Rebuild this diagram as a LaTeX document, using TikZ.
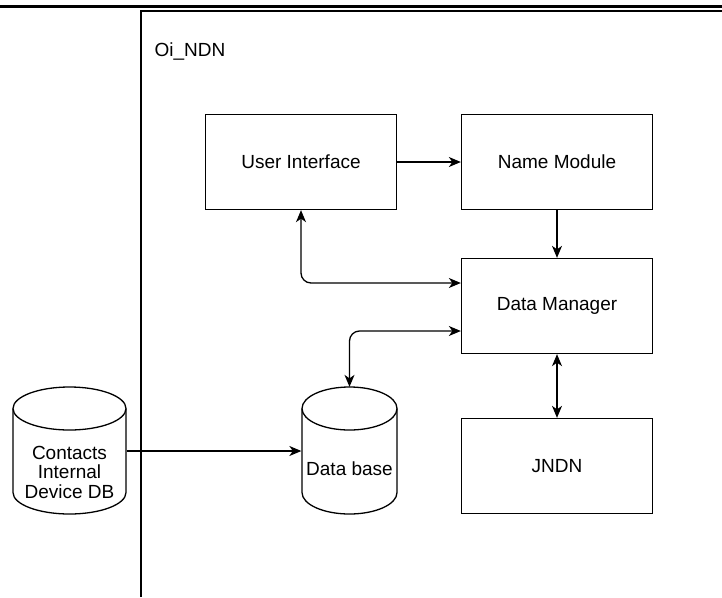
\documentclass[tikz,border=0pt]{standalone}
\usepackage{fontspec}
\setmainfont{Liberation Sans}
\usetikzlibrary{arrows.meta}
\begin{document}
\begin{tikzpicture}[x=1pt,y=-1pt, line width=1.3pt,
  txt/.style={font=\fontsize{19}{19.5}\selectfont},
  box/.style={draw, txt, minimum width=191pt, minimum height=95pt, inner sep=0pt},
  lbl/.style={txt, inner sep=0pt, align=center},
  cylarea/.style={inner sep=0pt, minimum width=#1, minimum height=127pt},
  tip/.tip={Stealth[length=12pt,width=10pt,inset=3.5pt]},
  arr/.style={-tip},
  darr/.style={tip-tip}]
\useasboundingbox (0,0) rectangle (722,597);
% page rule and frame
\draw[line width=2.6pt] (0,6.5) -- (722,6.5);
\draw (141,597) -- (141,11) -- (722,11);
\node[lbl, anchor=west] (title) at (154,52) {Oi\_NDN};
% boxes
\node[box] (ui) at (301,162) {User Interface};
\node[box] (nm) at (557,162) {Name Module};
\node[box] (dm) at (557,306) {Data Manager};
\node[box] (jn) at (557,466) {JNDN};
% cylinders
\node[cylarea=95pt] (db) at (349.5,451) {};
\draw (349.5,408.5) ellipse [x radius=47.5, y radius=21.5];
\draw (302,408.5) -- (302,492.5) arc[start angle=180, end angle=0, x radius=47.5, y radius=21.5] -- (397,408.5);
\node[lbl] (dbtext) at (349.5,469) {Data base};
\node[cylarea=113pt] (ct) at (69.5,451) {};
\draw (69.5,408.5) ellipse [x radius=56.5, y radius=21.5];
\draw (13,408.5) -- (13,492.5) arc[start angle=180, end angle=0, x radius=56.5, y radius=21.5] -- (126,408.5);
\node[lbl] (cttext) at (69.5,472) {Contacts\\Internal\\Device DB};
% connectors
\draw[arr] (ui) -- (nm);
\draw[arr] (nm) -- (dm);
\draw[darr] (dm) -- (jn);
\draw[darr, rounded corners=10pt] (ui.south) |- ([yshift=23pt]dm.west);
\draw[darr, rounded corners=10pt] ([yshift=-25pt]dm.west) -| (db.north);
\draw[arr] (ct.east) -- (ct.east -| db.west);
\end{tikzpicture}
\end{document}
